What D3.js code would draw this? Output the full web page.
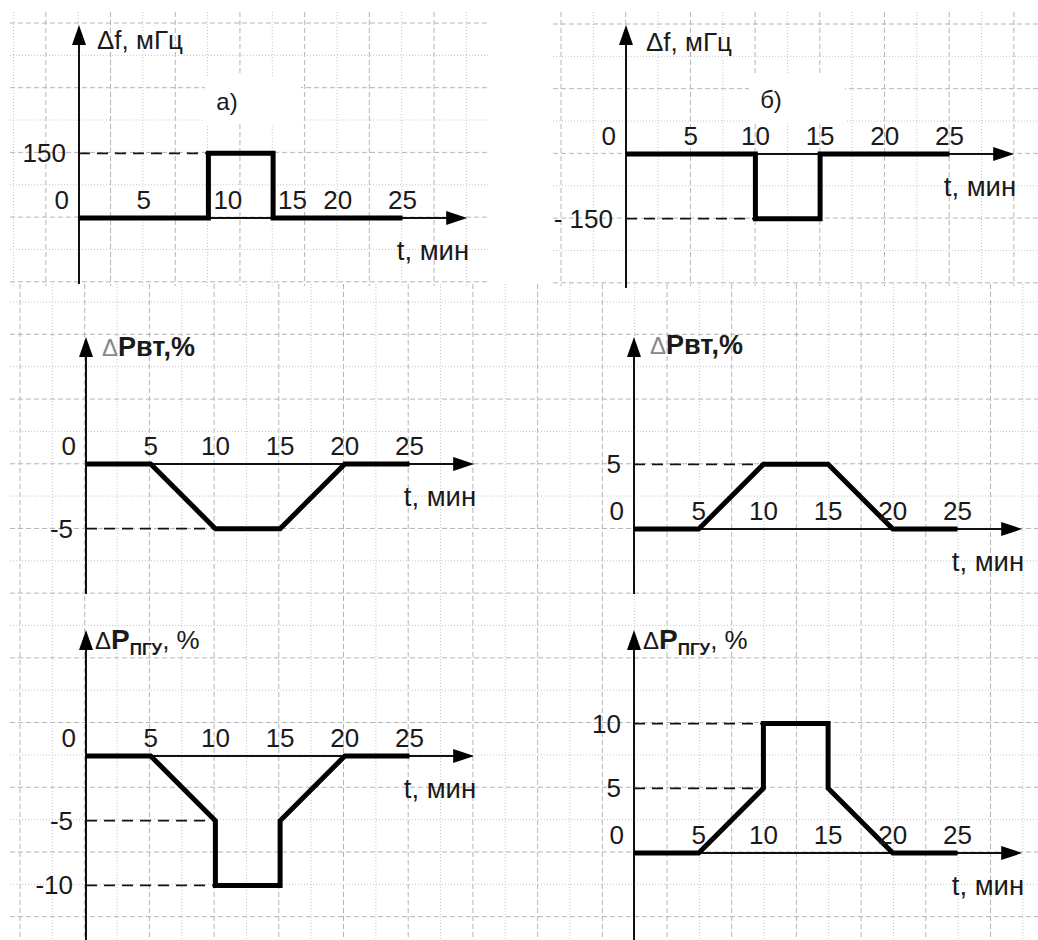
<!DOCTYPE html>
<html>
<head>
<meta charset="utf-8">
<script src="https://cdn.jsdelivr.net/npm/d3@7"></script>
<style>
body { margin: 0; background: #fff; }
text { font-family: "Liberation Sans", Arial, sans-serif; fill: #1a1a1a; }
</style>
</head>
<body>
<div id="chart"></div>
<script>
// time axis, minutes
var timeTicks = [5, 10, 15, 20, 25];

// a) and б): frequency deviation, mHz
var stepTime = [0, 10, 10, 15, 15, 25];
var freqRise = [0, 0, 150, 150, 0, 0];
var freqDrop = [0, 0, -150, -150, 0, 0];

// turbine power deviation, %
var rampTime = [0, 5, 10, 15, 20, 25];
var pvtDrop = [0, 0, -5, -5, 0, 0];
var pvtRise = [0, 0, 5, 5, 0, 0];

// ПГУ power deviation, %
var pguTime = [0, 5, 10, 10, 15, 15, 20, 25];
var pguDrop = [0, 0, -5, -10, -10, -5, 0, 0];
var pguRise = [0, 0, 5, 10, 10, 5, 0, 0];

// levels marked with dashed guides up to t = 10
var freqMarksRise = [150];
var freqMarksDrop = [-150];
var pvtMarksDrop = [-5];
var pvtMarksRise = [5];
var pguMarksDrop = [-5, -10];
var pguMarksRise = [5, 10];
var guideTime = 10;

var width = 1038;
var height = 940;
var cell = 32.35;

var svg = d3.select("#chart").append("svg")
    .attr("width", width)
    .attr("height", height);

// squared paper: dashed every other line, dotted in between
function paper(x1, x2, y1, y2, gx, gy, xOdd, yOdd) {
  var g = svg.append("g");
  var kx = d3.range(Math.ceil((x1 - gx) / cell), Math.floor((x2 - gx) / cell) + 1);
  var ky = d3.range(Math.ceil((y1 - gy) / cell), Math.floor((y2 - gy) / cell) + 1);
  function major(k, odd) { return ((k % 2) + 2) % 2 == (odd ? 1 : 0); }
  g.selectAll(".vx").data(kx).enter().append("line")
    .attr("x1", function(k){ return gx + k * cell; })
    .attr("x2", function(k){ return gx + k * cell; })
    .attr("y1", y1).attr("y2", y2)
    .attr("stroke", function(k){ return major(k, xOdd) ? "#b4b4b4" : "#c6c6c6"; })
    .attr("stroke-dasharray", function(k){ return major(k, xOdd) ? "5,3" : "1,2"; })
    .attr("stroke-width", 1);
  g.selectAll(".hy").data(ky).enter().append("line")
    .attr("y1", function(k){ return gy + k * cell; })
    .attr("y2", function(k){ return gy + k * cell; })
    .attr("x1", x1).attr("x2", x2)
    .attr("stroke", function(k){ return major(k, yOdd) ? "#b4b4b4" : "#c6c6c6"; })
    .attr("stroke-dasharray", function(k){ return major(k, yOdd) ? "5,3" : "1,2"; })
    .attr("stroke-width", 1);
}

paper(10, 490, 12, 286, 13.5, 23, true, false);
paper(553, 1038, 12, 286, 561, 24, false, false);
paper(10, 1038, 284, 940, 20, 302, false, true);

var panels = [
  {ox: 79, oy: 218, top: 25, bottom: 284, unit: 150, time: stepTime, values: freqRise,
   marks: freqMarksRise, fmt: function(d){ return "" + d; }, title: "freq", tx: 18, ty: 24, tag: "а)", tagX: 148, tagY: -116},
  {ox: 626, oy: 154, top: 25, bottom: 288, unit: 150, time: stepTime, values: freqDrop,
   marks: freqMarksDrop, fmt: function(d){ return "- " + Math.abs(d); }, title: "freq", tx: 20, ty: 26, tag: "б)", tagX: 145, tagY: -54},
  {ox: 86, oy: 464, top: 337, bottom: 594, unit: 5, time: rampTime, values: pvtDrop,
   marks: pvtMarksDrop, fmt: function(d){ return "" + d; }, title: "pvt", tx: 16, ty: 19},
  {ox: 634, oy: 529, top: 337, bottom: 594, unit: 5, time: rampTime, values: pvtRise,
   marks: pvtMarksRise, fmt: function(d){ return "" + d; }, title: "pvt", tx: 16, ty: 17},
  {ox: 86, oy: 756, top: 630, bottom: 940, unit: 5, time: pguTime, values: pguDrop,
   marks: pguMarksDrop, fmt: function(d){ return "" + d; }, title: "pgu", tx: 9, ty: 19},
  {ox: 634, oy: 853, top: 630, bottom: 940, unit: 5, time: pguTime, values: pguRise,
   marks: pguMarksRise, fmt: function(d){ return "" + d; }, title: "pgu", tx: 9, ty: 19}
];

panels.forEach(function(p) {
  var x = d3.scaleLinear().domain([0, 25]).range([p.ox, p.ox + 10 * cell]);
  var y = d3.scaleLinear().domain([0, p.unit]).range([p.oy, p.oy - 2 * cell]);
  var tip = x(30);
  var g = svg.append("g");

  if (p.tag) {
    g.append("rect")
      .attr("x", p.ox + p.tagX - 22).attr("y", p.oy + p.tagY - 26)
      .attr("width", 96).attr("height", 48)
      .attr("fill", "#fff");
    g.append("text")
      .text(p.tag)
      .attr("x", p.ox + p.tagX).attr("y", p.oy + p.tagY + 8)
      .attr("text-anchor", "middle")
      .attr("font-size", 24);
  }

  // axes
  g.append("line")
    .attr("x1", p.ox).attr("x2", p.ox)
    .attr("y1", p.top + 6).attr("y2", p.bottom)
    .attr("stroke", "#111").attr("stroke-width", 2);
  g.append("line")
    .attr("x1", p.ox).attr("x2", tip - 6)
    .attr("y1", p.oy).attr("y2", p.oy)
    .attr("stroke", "#111").attr("stroke-width", 2);
  g.append("path")
    .attr("d", "M" + p.ox + " " + p.top + " L" + (p.ox - 7) + " " + (p.top + 20) + " L" + (p.ox + 7) + " " + (p.top + 20) + "Z")
    .attr("fill", "#000");
  g.append("path")
    .attr("d", "M" + tip + " " + p.oy + " L" + (tip - 21) + " " + (p.oy - 7) + " L" + (tip - 21) + " " + (p.oy + 7) + "Z")
    .attr("fill", "#000");

  // dashed guides
  g.selectAll(".guide").data(p.marks).enter().append("line")
    .attr("x1", x(0)).attr("x2", x(guideTime))
    .attr("y1", function(d){ return y(d); })
    .attr("y2", function(d){ return y(d); })
    .attr("stroke", "#111").attr("stroke-width", 1.8)
    .attr("stroke-dasharray", "11,7");

  // the curve
  var pts = p.time.map(function(t, i){ return [t, p.values[i]]; });
  g.append("path")
    .datum(pts)
    .attr("d", d3.line().x(function(d){ return x(d[0]); }).y(function(d){ return y(d[1]); }))
    .attr("fill", "none")
    .attr("stroke", "#000")
    .attr("stroke-width", 5)
    .attr("stroke-linejoin", "miter");

  // a label sits beside a jump that rises straight out of the axis
  function blocked(t) {
    for (var i = 0; i < p.time.length - 1; i++) {
      if (p.time[i] == t && p.time[i + 1] == t &&
          Math.min(p.values[i], p.values[i + 1]) == 0 && Math.max(p.values[i], p.values[i + 1]) > 0) return true;
    }
    return false;
  }

  // tick labels
  g.selectAll(".tick").data(timeTicks).enter().append("text")
    .text(function(d){ return d; })
    .attr("x", function(d){ return blocked(d) ? x(d) + 5 : x(d); })
    .attr("y", p.oy - 9)
    .attr("text-anchor", function(d){ return blocked(d) ? "start" : "middle"; })
    .attr("font-size", 26);
  g.append("text")
    .text("0")
    .attr("x", p.ox - 10).attr("y", p.oy - 9)
    .attr("text-anchor", "end")
    .attr("font-size", 26);
  g.selectAll(".mark").data(p.marks).enter().append("text")
    .text(p.fmt)
    .attr("x", p.ox - 13)
    .attr("y", function(d){ return y(d) + 9; })
    .attr("text-anchor", "end")
    .attr("font-size", 26);

  g.append("text")
    .text("t, мин")
    .attr("x", tip + 2).attr("y", p.oy + 42)
    .attr("text-anchor", "end")
    .attr("font-size", 27.5);

  // axis title
  var t = g.append("text")
    .attr("x", p.ox + p.tx).attr("y", p.top + p.ty);
  if (p.title == "freq") {
    t.attr("font-size", 26).text("Δf, мГц");
  } else if (p.title == "pvt") {
    t.append("tspan").text("Δ").attr("font-size", 24).attr("fill", "#888");
    t.append("tspan").text("Pвт,%").attr("font-size", 27).attr("font-weight", "bold");
  } else {
    t.append("tspan").text("Δ").attr("font-size", 24);
    t.append("tspan").text("P").attr("font-size", 28).attr("font-weight", "bold");
    t.append("tspan").text("ПГУ").attr("font-size", 17).attr("font-weight", "bold").attr("dy", 6);
    t.append("tspan").text(", %").attr("font-size", 26).attr("dy", -6);
  }
});
</script>
</body>
</html>
